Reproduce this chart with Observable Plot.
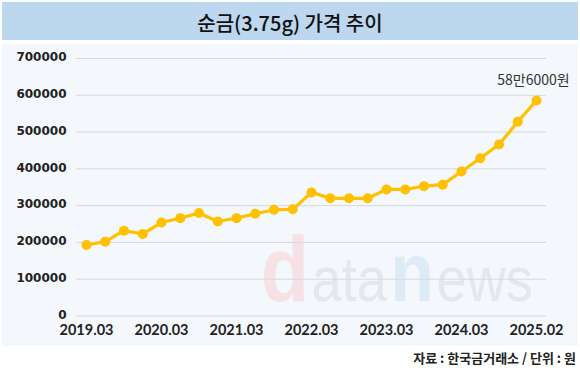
<!DOCTYPE html>
<html>
<head>
<meta charset="utf-8">
<script src="https://cdn.jsdelivr.net/npm/d3@7"></script>
<script src="https://cdn.jsdelivr.net/npm/@observablehq/plot@0.6"></script>
<style>
  html, body { margin: 0; padding: 0; background: #ffffff; }
  #wrap { position: relative; width: 580px; height: 373px; overflow: hidden; background: #fff; }
  #title { position: absolute; left: 2px; top: 2px; width: 576px; height: 38px; background: #bdd7ee;
    font-family: "Noto Sans CJK KR", sans-serif; font-size: 20px; font-weight: 500; color: #111;
    display: flex; align-items: center; justify-content: center; padding-top: 2px; box-sizing: border-box; }
  #panel { position: absolute; left: 2px; top: 44px; width: 576px; height: 302px; background: #f4f7fb; }
  #panel svg { display: block; }
  #caption { position: absolute; right: 4px; top: 350px; font-family: "Noto Sans CJK KR", sans-serif;
    font-size: 13px; font-weight: 700; color: #222; line-height: 16px; white-space: nowrap; }
</style>
</head>
<body>
<div id="wrap">
  <div id="title">순금(3.75g) 가격 추이</div>
  <div id="panel"></div>
  <div id="caption">자료 : 한국금거래소 / 단위 : 원</div>
</div>
<script>
const periods = ["2019.03","2019.06","2019.09","2019.12","2020.03","2020.06","2020.09","2020.12",
  "2021.03","2021.06","2021.09","2021.12","2022.03","2022.06","2022.09","2022.12",
  "2023.03","2023.06","2023.09","2023.12","2024.03","2024.06","2024.09","2024.12","2025.02"];
const prices = [193000, 202000, 232000, 223000, 254000, 266000, 280000, 257000,
  266000, 278000, 289000, 290000, 336000, 320000, 320000, 320000,
  344000, 344000, 353000, 357000, 393000, 429000, 466000, 528000, 586000];
const yTicks = [0, 100000, 200000, 300000, 400000, 500000, 600000, 700000];
const xTickIdx = [0, 4, 8, 12, 16, 20, 24];
const lastLabel = "58만6000원";

const data = periods.map((p, i) => ({i, period: p, price: prices[i]}));
const last = data[data.length - 1];

const chart = Plot.plot({
  width: 576,
  height: 301,
  marginTop: 14,
  marginBottom: 29.5,
  marginLeft: 74,
  marginRight: 32,
  style: {background: "#f4f7fb", overflow: "visible"},
  x: {type: "linear", domain: [-0.533, 24.533]},
  y: {domain: [0, 700000]},
  marks: [
    Plot.ruleY(yTicks, {stroke: "#d6d8db", strokeWidth: 1}),
    Plot.axisY({ticks: yTicks, tickSize: 0, tickPadding: 10, tickFormat: d => String(d), label: null,
      fontSize: 12, fontWeight: "bold", fontFamily: "DejaVu Sans", fill: "#222", dy: -1,
      letterSpacing: "0.8px"}),
    Plot.axisX({ticks: xTickIdx, tickSize: 0, tickPadding: 9, tickFormat: i => periods[i], label: null,
      fontSize: 14.5, fontWeight: "bold", fontFamily: "Lato", fill: "#222"}),
    Plot.line(data, {x: "i", y: "price", stroke: "#ffc000", strokeWidth: 3.2, strokeLinejoin: "round"}),
    Plot.dot(data, {x: "i", y: "price", r: 5, fill: "#ffc000", stroke: "none"}),
    Plot.text([last], {x: "i", y: "price", text: () => lastLabel, dx: -3, dy: -20,
      fontSize: 14, fill: "#333", fontFamily: "Noto Sans CJK KR"})
  ]
});

// faint watermark behind marks (single text element, condensed)
const svg = d3.select(chart);
const wm = svg.insert("g", ":first-child").attr("class", "watermark")
  .attr("transform", "translate(258.7,257) scale(0.86,1)");
const wt = wm.append("text").attr("x", 0).attr("y", 0)
  .attr("text-anchor", "start").attr("font-family", "Liberation Sans");
const parts = [
  {t: "d", fs: 92, fw: "bold", fill: "#f6e1e4", dx: 0},
  {t: "ata", fs: 63, fw: "normal", fill: "#e4e7eb", dx: 3},
  {t: "n", fs: 83, fw: "bold", fill: "#ddebf6", dx: 4},
  {t: "ews", fs: 63, fw: "normal", fill: "#e4e7eb", dx: 3}
];
for (const p of parts) {
  wt.append("tspan").attr("font-size", p.fs).attr("font-weight", p.fw)
    .attr("fill", p.fill).attr("dx", p.dx).text(p.t);
}

document.getElementById("panel").appendChild(chart);
</script>
</body>
</html>
